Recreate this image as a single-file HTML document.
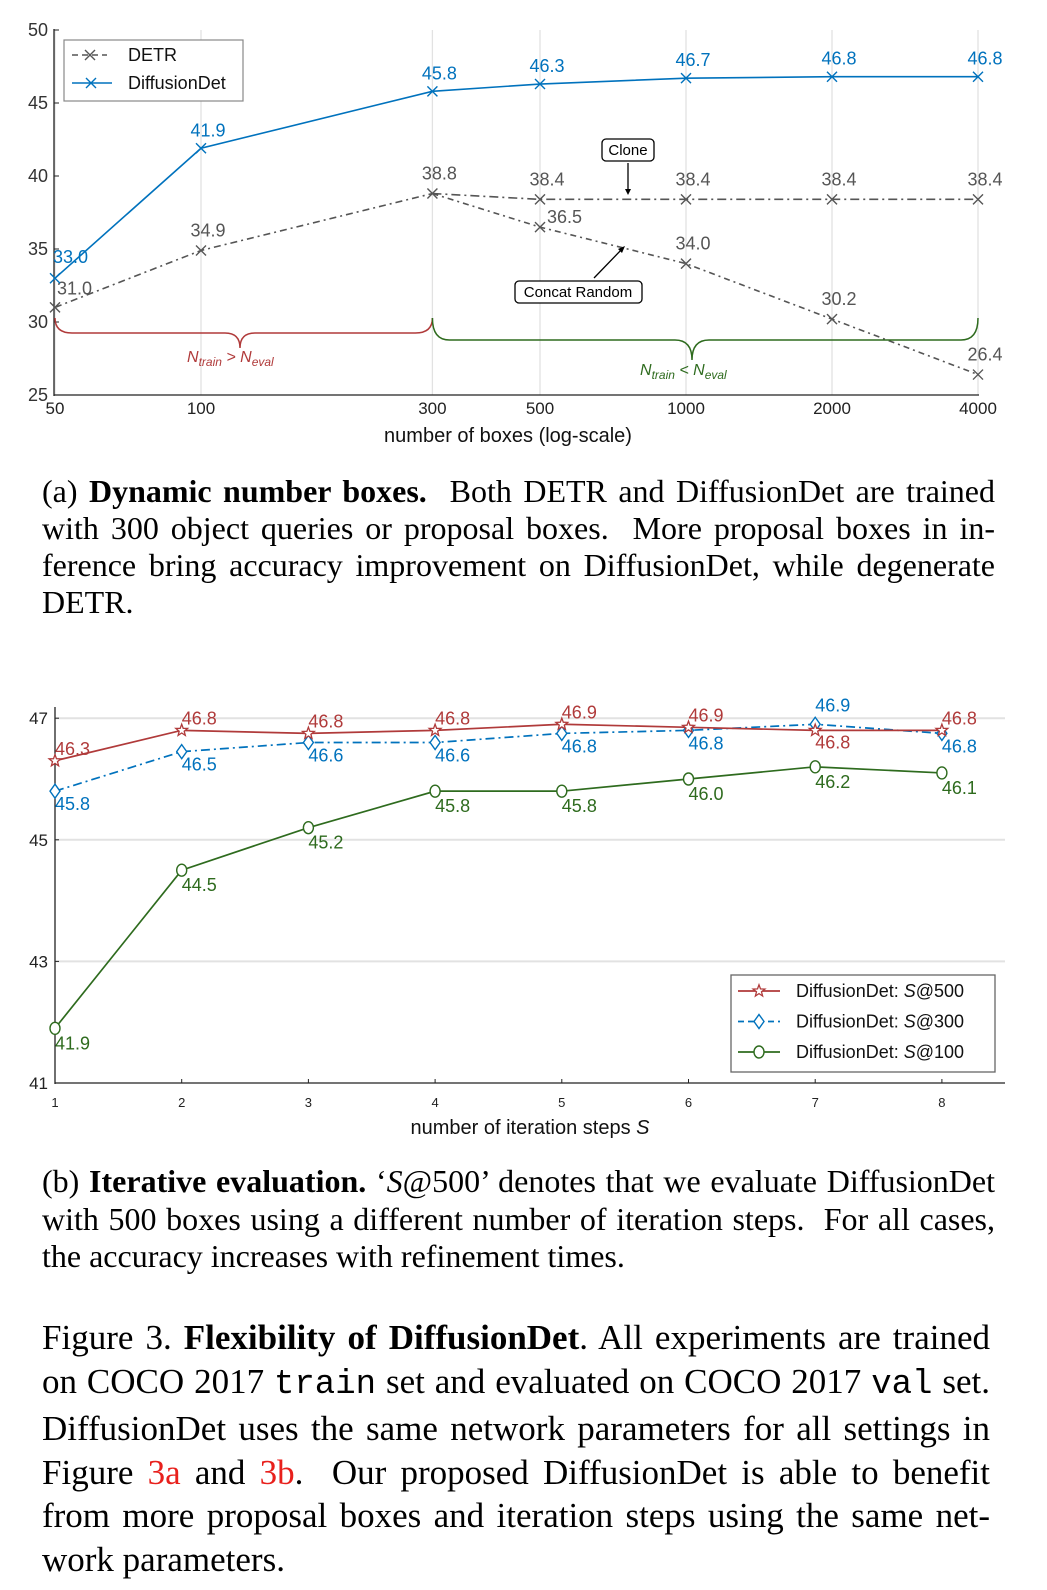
<!DOCTYPE html>
<html><head><meta charset="utf-8">
<style>
body{margin:0;background:#fff;width:1047px;height:1590px;overflow:hidden;position:relative;font-family:"Liberation Serif",serif;}
svg{position:absolute;left:0;top:0}
.cap{position:absolute;left:42px;width:953px;color:#000;}
.cap div{text-align:justify;text-align-last:justify;white-space:nowrap;}
.cap div.last{text-align-last:left;}
.ca{font-size:32px;line-height:37px;top:473px;}
.cb{font-size:32px;line-height:37.5px;top:1163px;}
.cf{font-size:35px;line-height:43.5px;top:1316px;width:948px;}
.mono{font-family:"Liberation Mono",monospace;font-size:34px}
.red{color:#e8201c}
</style></head><body>
<svg id="ca" width="1047" height="460" style="font-family:'Liberation Sans',sans-serif"></svg>
<svg id="cb" width="1047" height="470" style="top:680px;font-family:'Liberation Sans',sans-serif"></svg>

<div class="cap ca">
<div>(a) <b>Dynamic number boxes.</b>&nbsp; Both DETR and DiffusionDet are trained</div>
<div>with 300 object queries or proposal boxes.&nbsp; More proposal boxes in in-</div>
<div>ference bring accuracy improvement on DiffusionDet, while degenerate</div>
<div class="last">DETR.</div>
</div>
<div class="cap cb">
<div>(b) <b>Iterative evaluation.</b> ‘<i>S</i>@500’ denotes that we evaluate DiffusionDet</div>
<div>with 500 boxes using a different number of iteration steps.&nbsp; For all cases,</div>
<div class="last">the accuracy increases with refinement times.</div>
</div>
<div class="cap cf">
<div>Figure 3. <b>Flexibility of DiffusionDet</b>. All experiments are trained</div>
<div>on COCO 2017 <span class="mono">train</span> set and evaluated on COCO 2017 <span class="mono">val</span> set.</div>
<div>DiffusionDet uses the same network parameters for all settings in</div>
<div>Figure <span class="red">3a</span> and <span class="red">3b</span>.&nbsp; Our proposed DiffusionDet is able to benefit</div>
<div>from more proposal boxes and iteration steps using the same net-</div>
<div class="last">work parameters.</div>
</div>

<script>
// ---- Chart A data ----
const boxesA = [50, 100, 300, 500, 1000, 2000, 4000];
const diffA = [33.0, 41.9, 45.8, 46.3, 46.7, 46.8, 46.8];
const detrA = [31.0, 34.9, 38.8];
const cloneBoxes = [300, 500, 1000, 2000, 4000];
const cloneA = [38.8, 38.4, 38.4, 38.4, 38.4];
const concatBoxes = [300, 500, 1000, 2000, 4000];
const concatA = [38.8, 36.5, 34.0, 30.2, 26.4];
const yTicksA = [25, 30, 35, 40, 45, 50];

// ---- Chart B data ----
const stepsB = [1, 2, 3, 4, 5, 6, 7, 8];
const s500 = [46.3, 46.8, 46.75, 46.8, 46.9, 46.85, 46.8, 46.8];
const s500Labels = ["46.3","46.8","46.8","46.8","46.9","46.9","46.8","46.8"];
const s300 = [45.8, 46.45, 46.6, 46.6, 46.75, 46.8, 46.9, 46.75];
const s300Labels = ["45.8","46.5","46.6","46.6","46.8","46.8","46.9","46.8"];
const s100 = [41.9, 44.5, 45.2, 45.8, 45.8, 46.0, 46.2, 46.1];
const s100Labels = ["41.9","44.5","45.2","45.8","45.8","46.0","46.2","46.1"];
const yTicksB = [41, 43, 45, 47];

const NS = "http://www.w3.org/2000/svg";
function mk(p, tag, attrs, txt){const e=document.createElementNS(NS,tag);for(const k in attrs)e.setAttribute(k,attrs[k]);if(txt!==undefined)e.textContent=txt;p.appendChild(e);return e;}

// ================= Chart A =================
(function(){
const s=document.getElementById('ca');
const xA=v=>55+146*Math.log2(v/50);
const yA=v=>395-(v-25)*14.6;
boxesA.forEach(b=>{const g=mk(s,'line',{x1:xA(b),x2:xA(b),y1:30,y2:395,stroke:'#e2e2e2','stroke-width':1.3});
});
mk(s,'line',{x1:54,x2:54,y1:29,y2:396,stroke:'#222','stroke-width':1.3});
mk(s,'line',{x1:54,x2:979,y1:395,y2:395,stroke:'#222','stroke-width':1.3});
yTicksA.forEach(t=>{mk(s,'line',{x1:54,x2:59,y1:yA(t),y2:yA(t),stroke:'#222'});
const e=mk(s,'text',{x:48,y:yA(t)+6,'text-anchor':'end','font-size':18,fill:'#333'},t);
});
boxesA.forEach(b=>{const e=mk(s,'text',{x:xA(b),y:414,'text-anchor':'middle','font-size':17,fill:'#222'},b);
});
const xt=mk(s,'text',{x:508,y:442,'text-anchor':'middle','font-size':20,fill:'#111'},'number of boxes (log-scale)');


function cross(x,y,c){mk(s,'path',{d:`M${x-5},${y-5}L${x+5},${y+5}M${x-5},${y+5}L${x+5},${y-5}`,stroke:c,'stroke-width':1.4,fill:'none'});}
function line(xs,ys,c,dash,name){const p=mk(s,'polyline',{points:xs.map((b,i)=>xA(b)+','+yA(ys[i])).join(' '),fill:'none',stroke:c,'stroke-width':1.6,'stroke-dasharray':dash});
}

line(boxesA.slice(0,3),detrA,'#555','7,4,2,4','detr-line');
line(cloneBoxes,cloneA,'#555','9,4,2,4','detr-clone-line');
line(concatBoxes,concatA,'#555','6,4,2,4','detr-concat-line');
const gray='#555';
detrA.forEach((v,i)=>{cross(xA(boxesA[i]),yA(v),gray);});
cloneA.slice(1).forEach((v,i)=>{cross(xA(cloneBoxes[i+1]),yA(v),gray);});
concatA.slice(1).forEach((v,i)=>{cross(xA(concatBoxes[i+1]),yA(v),gray);});
function lab(x,y,t,c,anch){const e=mk(s,'text',{x:x,y:y,'text-anchor':anch||'middle','font-size':18,fill:c},t);
}
detrA.forEach((v,i)=>{const x=xA(boxesA[i]);if(i===0)lab(x+2,yA(v)-13,v.toFixed(1),gray,'start');else lab(x+7,yA(v)-14,v.toFixed(1),gray);});
cloneA.slice(1).forEach((v,i)=>{lab(xA(cloneBoxes[i+1])+7,yA(v)-14,v.toFixed(1),gray);});
concatA.slice(1).forEach((v,i)=>{const b=concatBoxes[i+1];if(i===0)lab(xA(b)+7,yA(v)-4,v.toFixed(1),gray,'start');else lab(xA(b)+7,yA(v)-14,v.toFixed(1),gray);});
line(boxesA,diffA,'#0072BD','none','diffusiondet-line');
diffA.forEach((v,i)=>{const x=xA(boxesA[i]);cross(x,yA(v),'#0072BD');
if(i===0)lab(x-2,yA(v)-15,v.toFixed(1),'#0072BD','start');else lab(x+7,yA(v)-12,v.toFixed(1),'#0072BD');});

const cb=mk(s,'rect',{x:602,y:139,width:52,height:22,rx:4,fill:'#fff',stroke:'#000','stroke-width':1.3});

mk(s,'text',{x:628,y:155,'text-anchor':'middle','font-size':15,fill:'#000'},'Clone');
mk(s,'line',{x1:628,y1:163,x2:628,y2:192,stroke:'#000','stroke-width':1.3});
mk(s,'path',{d:'M625,189L628,195L631,189Z',fill:'#000'});
const cr=mk(s,'rect',{x:515,y:281,width:127,height:22,rx:4,fill:'#fff',stroke:'#000','stroke-width':1.3});

mk(s,'text',{x:578,y:297,'text-anchor':'middle','font-size':15,fill:'#000'},'Concat Random');
mk(s,'line',{x1:594,y1:278,x2:623,y2:248,stroke:'#000','stroke-width':1.3});
mk(s,'path',{d:'M618,249L625,246L622,253Z',fill:'#000'});

const x300=xA(300);
const rb=mk(s,'path',{d:`M55,318 Q55,333 72,333 L225,333 Q240,333 240,348 Q240,333 255,333 L${x300-17},333 Q${x300},333 ${x300},318`,fill:'none',stroke:'#b03a3a','stroke-width':1.5});

const gb=mk(s,'path',{d:`M${x300},318 Q${x300},340 ${x300+17},340 L675,340 Q692,340 692,360 Q692,340 709,340 L961,340 Q978,340 978,318`,fill:'none',stroke:'#2e6b1e','stroke-width':1.5});

const rt=mk(s,'text',{x:187,y:362,'font-size':16,fill:'#b03a3a','font-style':'italic'});
rt.innerHTML='N<tspan font-size="12" dy="4">train</tspan><tspan dy="-4"> &gt; N</tspan><tspan font-size="12" dy="4">eval</tspan>';

const gt=mk(s,'text',{x:640,y:375,'font-size':16,fill:'#2e6b1e','font-style':'italic'});
gt.innerHTML='N<tspan font-size="12" dy="4">train</tspan><tspan dy="-4"> &lt; N</tspan><tspan font-size="12" dy="4">eval</tspan>';


const lg=mk(s,'rect',{x:64,y:40,width:179,height:61,fill:'#fff',stroke:'#888','stroke-width':1.2});

mk(s,'line',{x1:72,x2:107,y1:55,y2:55,stroke:'#555','stroke-width':1.5,'stroke-dasharray':'6,4'});cross(90,55,'#555');
mk(s,'text',{x:128,y:61,'font-size':18,fill:'#111'},'DETR');
mk(s,'line',{x1:72,x2:112,y1:83,y2:83,stroke:'#0072BD','stroke-width':1.6});cross(91,83,'#0072BD');
mk(s,'text',{x:128,y:89,'font-size':18,fill:'#111'},'DiffusionDet');
})();

// ================= Chart B =================
(function(){
const s=document.getElementById('cb');
const xB=v=>55+(v-1)*126.7;
const yB=v=>403-(v-41)*60.8;
[43,45,47].forEach(t=>{const g=mk(s,'line',{x1:56,x2:1005,y1:yB(t),y2:yB(t),stroke:'#e2e2e2','stroke-width':2});
});
mk(s,'line',{x1:55,x2:55,y1:27,y2:404,stroke:'#222','stroke-width':1.3});
mk(s,'line',{x1:55,x2:1005,y1:403,y2:403,stroke:'#222','stroke-width':1.3});
yTicksB.forEach(t=>{mk(s,'line',{x1:55,x2:59,y1:yB(t),y2:yB(t),stroke:'#222'});
const e=mk(s,'text',{x:48,y:yB(t)+6,'text-anchor':'end','font-size':17,fill:'#222'},t);
});
stepsB.forEach(t=>{mk(s,'line',{x1:xB(t),x2:xB(t),y1:403,y2:399,stroke:'#222'});
const e=mk(s,'text',{x:xB(t),y:427,'text-anchor':'middle','font-size':13,fill:'#222'},t);
});
const xt=mk(s,'text',{x:530,y:454,'text-anchor':'middle','font-size':20,fill:'#111'});
xt.innerHTML='number of iteration steps <tspan font-style="italic">S</tspan>';


const RED='#b03a3a',BLUE='#0072BD',GRN='#2e6b1e';
function pl(vals,c,dash,name){const p=mk(s,'polyline',{points:stepsB.map((t,i)=>xB(t)+','+yB(vals[i])).join(' '),fill:'none',stroke:c,'stroke-width':1.7,'stroke-dasharray':dash});
}
function star(x,y,c){let d='';for(let k=0;k<10;k++){const r=k%2?2.6:6.2,a=-Math.PI/2+k*Math.PI/5;d+=(k?'L':'M')+(x+r*Math.cos(a)).toFixed(1)+','+(y+r*Math.sin(a)).toFixed(1);}mk(s,'path',{d:d+'Z',fill:'#fff',stroke:c,'stroke-width':1.3});}
function dia(x,y,c){mk(s,'path',{d:`M${x},${y-7}L${x+5},${y}L${x},${y+7}L${x-5},${y}Z`,fill:'#fff',stroke:c,'stroke-width':1.4});}
function circ(x,y,c){mk(s,'ellipse',{cx:x,cy:y,rx:5,ry:6,fill:'#fff',stroke:c,'stroke-width':1.4});}
function lab(x,y,t,c){const e=mk(s,'text',{x:x,y:y,'font-size':18,fill:c},t);}

pl(s100,GRN,'none','s100-line');
pl(s300,BLUE,'9,4,2,4','s300-line');
pl(s500,RED,'none','s500-line');
stepsB.forEach((t,i)=>{const x=xB(t);
circ(x,yB(s100[i]),GRN);lab(x,yB(s100[i])+21,s100Labels[i],GRN);
dia(x,yB(s300[i]),BLUE);
star(x,yB(s500[i]),RED);
if(s300[i]>s500[i]){lab(x,yB(s300[i])-13,s300Labels[i],BLUE);lab(x,yB(s500[i])+18,s500Labels[i],RED);}
else{lab(x,yB(s500[i])-6,s500Labels[i],RED);lab(x,yB(s300[i])+19,s300Labels[i],BLUE);}
});

const lg=mk(s,'rect',{x:731,y:295,width:264,height:97,fill:'#fff',stroke:'#666','stroke-width':1.3});

const ent=[[RED,'none','500',star],[BLUE,'6,4','300',dia],[GRN,'none','100',circ]];
ent.forEach((e,i)=>{const y=311+i*30.5;
mk(s,'line',{x1:738,x2:780,y1:y,y2:y,stroke:e[0],'stroke-width':1.7,'stroke-dasharray':e[1]});
e[3](759,y,e[0]);
const t=mk(s,'text',{x:796,y:y+6,'font-size':18,fill:'#111'});
t.innerHTML='DiffusionDet: <tspan font-style="italic">S</tspan>@'+e[2];
});
})();
</script>
</body></html>
